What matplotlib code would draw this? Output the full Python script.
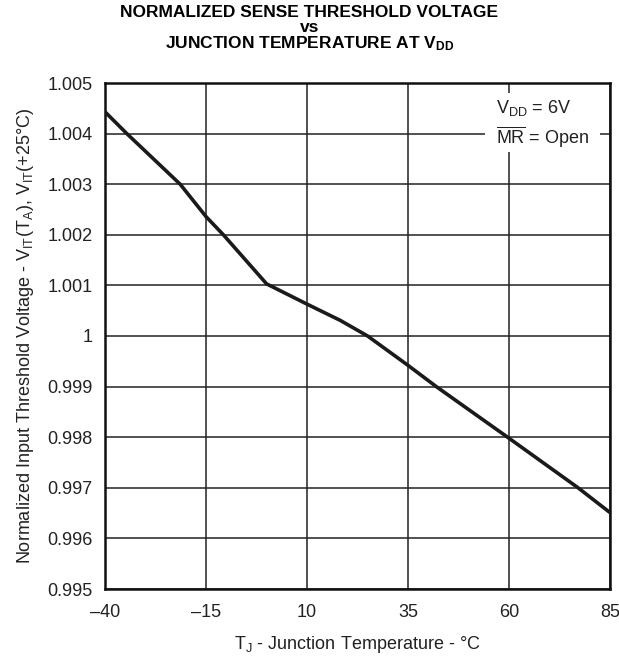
import matplotlib
matplotlib.use("Agg")
import matplotlib.pyplot as plt
from matplotlib.patches import Rectangle

plt.rcParams["font.family"] = ["Liberation Sans", "DejaVu Sans"]
plt.rcParams["mathtext.fontset"] = "custom"
plt.rcParams["mathtext.rm"] = "Liberation Sans"
plt.rcParams["mathtext.it"] = "Liberation Sans:italic"
plt.rcParams["mathtext.bf"] = "Liberation Sans:bold"

# curve (junction temperature in degC, normalized V_IT)
temp_c = [-40, -34.6, -21.4, -15, -10.7, 0, 10, 18.2, 25, 35, 42, 60, 77.1, 85]
v_norm = [1.00443, 1.004, 1.003, 1.00236, 1.002, 1.00103, 1.00063, 1.00031,
          1.0, 0.99942, 0.999, 0.99798, 0.997, 0.99651]

x_ticks = [-40, -15, 10, 35, 60, 85]
y_ticks = [0.995, 0.996, 0.997, 0.998, 0.999, 1.0, 1.001, 1.002, 1.003, 1.004, 1.005]
y_labels = ["0.995", "0.996", "0.997", "0.998", "0.999", "1", "1.001", "1.002",
            "1.003", "1.004", "1.005"]

ink = "#222222"

fig = plt.figure(figsize=(6.19, 6.56), dpi=100)
ax = fig.add_axes([105 / 619, 1 - 589 / 656, 505 / 619, 506 / 656])

ax.plot(temp_c, v_norm, color="#1a1a1a", lw=2.6, solid_capstyle="butt", zorder=3)

ax.set_xlim(-40, 85)
ax.set_ylim(0.995, 1.005)
ax.set_xticks(x_ticks)
ax.set_xticklabels([f"{t}".replace("-", "\u2013") for t in x_ticks])
ax.set_yticks(y_ticks)
ax.set_yticklabels(y_labels)
ax.tick_params(length=0, labelsize=13, colors=ink)
ax.tick_params(axis="y", pad=9)
ax.tick_params(axis="x", pad=11)
ax.grid(True, color=ink, lw=1.1)
for s in ax.spines.values():
    s.set_linewidth(1.8)
    s.set_color("#111111")

ax.set_xlabel(r"$\mathrm{T_J}$ - Junction Temperature - °C", fontsize=13, labelpad=9,
              color=ink)
ax.set_ylabel(r"Normalized Input Threshold Voltage - $\mathrm{V_{IT}(T_A)}$, $\mathrm{V_{IT}}$(+25°C)",
              fontsize=13, labelpad=8, color=ink)

fig.text(0.5, 1 - 5 / 656,
         "NORMALIZED SENSE THRESHOLD VOLTAGE\nvs\n"
         r"JUNCTION TEMPERATURE AT $\mathbf{V_{DD}}$",
         ha="center", va="top", ma="center", fontsize=12.5, fontweight="bold",
         linespacing=0.98)

# white patch behind the conditions note, hiding the grid
ax.add_patch(Rectangle((0.752, 0.864), 0.228, 0.116, transform=ax.transAxes,
                       facecolor="white", edgecolor="none", zorder=2.5))
ax.text(0.774, 0.951, r"$\mathrm{V_{DD}}$ = 6V", transform=ax.transAxes, ha="left",
        va="center", fontsize=13, color=ink, zorder=4)
ax.text(0.774, 0.893, r"$\overline{\mathrm{MR}}$ = Open", transform=ax.transAxes, ha="left",
        va="center", fontsize=13, color=ink, zorder=4)

fig.savefig("out.png", dpi=100, facecolor="white")
